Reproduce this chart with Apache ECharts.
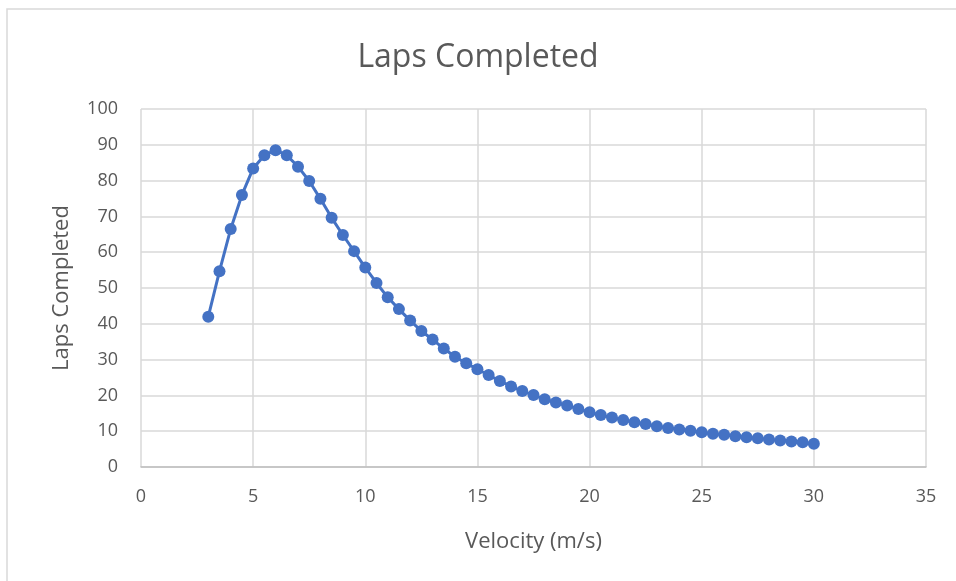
<!DOCTYPE html>
<html>
<head>
<meta charset="utf-8">
<script src="https://cdn.jsdelivr.net/npm/echarts@6/dist/echarts.min.js"></script>
<style>
html,body{margin:0;padding:0;background:#fff;}
#chart{width:956px;height:581px;}
</style>
</head>
<body>
<div id="chart"></div>
<script>
const velocity = [3,3.5,4,4.5,5,5.5,6,6.5,7,7.5,8,8.5,9,9.5,10,10.5,11,11.5,12,12.5,13,13.5,14,14.5,15,15.5,16,16.5,17,17.5,18,18.5,19,19.5,20,20.5,21,21.5,22,22.5,23,23.5,24,24.5,25,25.5,26,26.5,27,27.5,28,28.5,29,29.5,30];
const laps = [42.0,54.7,66.5,76.0,83.4,87.1,88.5,87.1,83.9,79.9,74.9,69.6,64.8,60.3,55.7,51.4,47.4,44.1,40.9,38.0,35.6,33.1,30.8,29.0,27.3,25.7,24.0,22.5,21.2,20.1,18.9,18.0,17.2,16.2,15.3,14.5,13.8,13.1,12.5,12.0,11.4,10.9,10.5,10.1,9.7,9.3,9.0,8.6,8.3,8.0,7.7,7.4,7.1,6.9,6.5];
const titleText = 'Laps Completed';
const xName = 'Velocity (m/s)';
const yName = 'Laps Completed';

const FONT = 'Open Sans';
const chart = echarts.init(document.getElementById('chart'), null, {renderer:'canvas'});
chart.setOption({
  backgroundColor:'#fff',
  animation:false,
  graphic:[{type:'rect', shape:{x:7,y:9,width:1000,height:700}, style:{fill:'none', stroke:'#d9d9d9', lineWidth:1.5}, silent:true}],
  title:{text:titleText, left:'center', top:37, textStyle:{fontFamily:FONT, fontSize:32, fontWeight:'normal', color:'#595959'}},
  grid:{left:141, right:30, top:109, bottom:114},
  xAxis:{type:'value', min:0, max:35, interval:5,
    name:xName, nameLocation:'middle', nameGap:64,
    nameTextStyle:{fontFamily:FONT, fontSize:22, color:'#595959'},
    axisLine:{show:true, lineStyle:{color:'#bfbfbf', width:1.5}},
    axisTick:{show:false},
    axisLabel:{fontFamily:FONT, fontSize:18, color:'#595959', margin:21},
    splitLine:{show:true, lineStyle:{color:'#d9d9d9', width:1.5}}},
  yAxis:{type:'value', min:0, max:100, interval:10,
    name:yName, nameLocation:'middle', nameGap:68,
    nameTextStyle:{fontFamily:FONT, fontSize:22, color:'#595959'},
    axisLine:{show:false}, axisTick:{show:false},
    axisLabel:{fontFamily:FONT, fontSize:18, color:'#595959', margin:23},
    splitLine:{show:true, lineStyle:{color:'#d9d9d9', width:1.5}}},
  series:[{type:'line', data:velocity.map((v,i)=>[v,laps[i]]),
    symbol:'circle', symbolSize:12, showSymbol:true,
    lineStyle:{color:'#4472C4', width:3},
    itemStyle:{color:'#4472C4'}}]
});
</script>
</body>
</html>
